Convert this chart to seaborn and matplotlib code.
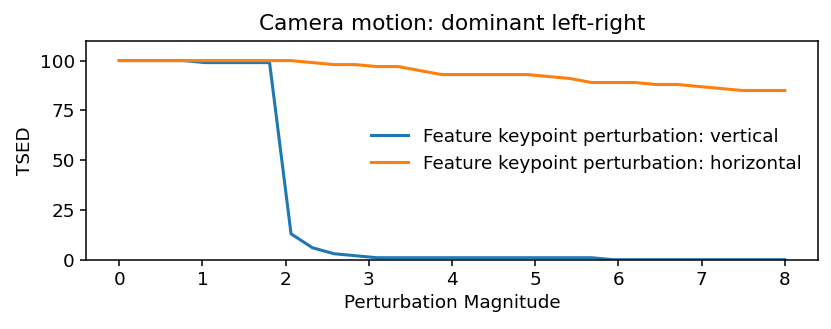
import numpy as np
import pandas as pd
import matplotlib
matplotlib.use("Agg")
import matplotlib.pyplot as plt
import seaborn as sns

# perturbation magnitudes (32 steps from 0 to 8)
magnitude = np.linspace(0, 8, 32)

tsed_vertical = [100, 100, 100, 100, 99, 99, 99, 99, 13, 6, 3, 2,
                 1, 1, 1, 1, 1, 1, 1, 1, 1, 1, 1, 0,
                 0, 0, 0, 0, 0, 0, 0, 0]
tsed_horizontal = [100, 100, 100, 100, 100, 100, 100, 100, 100, 99, 98, 98,
                   97, 97, 95, 93, 93, 93, 93, 93, 92, 91, 89, 89,
                   89, 88, 88, 87, 86, 85, 85, 85]

labels = ["Feature keypoint perturbation: vertical",
          "Feature keypoint perturbation: horizontal"]

df = pd.DataFrame({
    "magnitude": np.concatenate([magnitude, magnitude]),
    "tsed": tsed_vertical + tsed_horizontal,
    "series": [labels[0]] * 32 + [labels[1]] * 32,
})

fig = plt.figure(figsize=(8.31, 3.29), dpi=100)
ax = fig.add_axes([0.1035, 0.2106, 0.881, 0.6657])
sns.lineplot(data=df, x="magnitude", y="tsed", hue="series",
             palette=["#1f77b4", "#ff7f0e"], linewidth=2.2, ax=ax)

ax.set_ylim(0, 110)
ax.set_xlim(-0.4, 8.4)
ax.set_yticks([0, 25, 50, 75, 100])
ax.set_title("Camera motion: dominant left-right", fontsize=15.6, pad=8)
ax.set_xlabel("Perturbation Magnitude", fontsize=13.2)
ax.set_ylabel("TSED", fontsize=13.2)
ax.tick_params(labelsize=13.2, length=4.5, width=1.1)
for s in ax.spines.values():
    s.set_linewidth(1.1)
ax.legend(loc="center right", frameon=False, fontsize=13.25)

fig.savefig("out.png", dpi=100)
